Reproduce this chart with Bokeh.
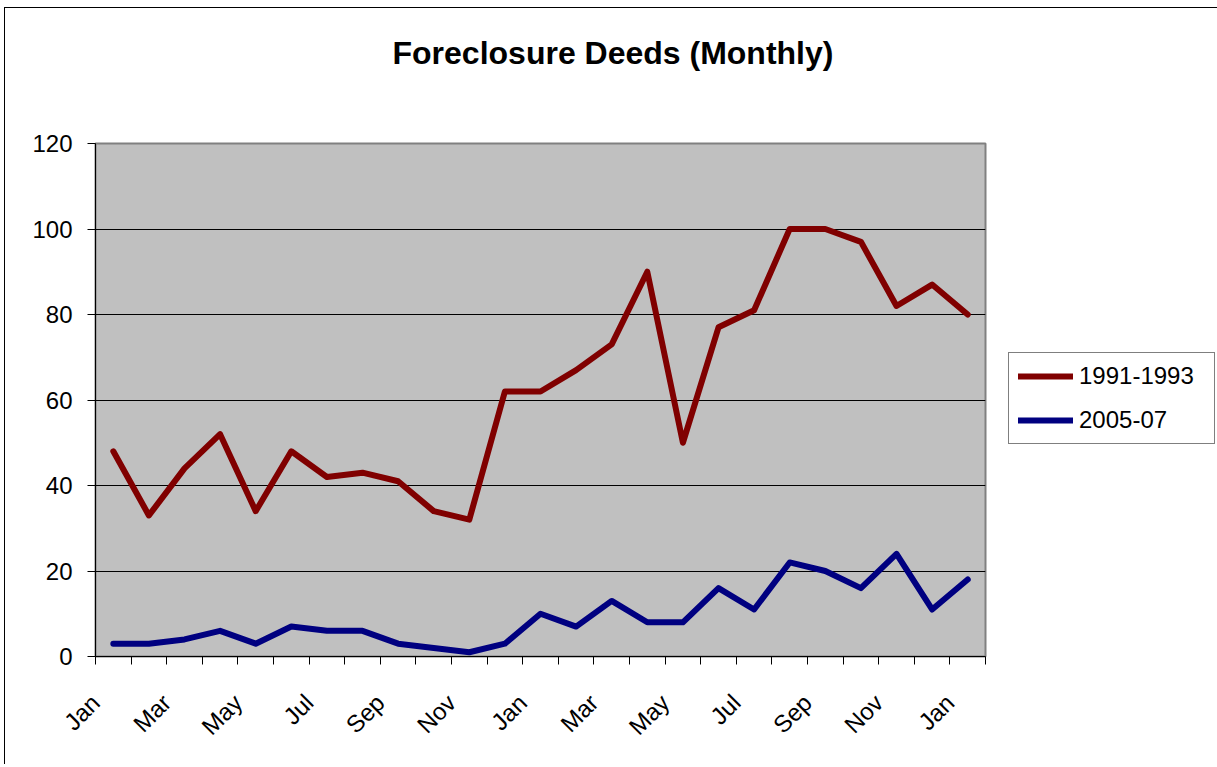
import math
from bokeh.plotting import figure
from bokeh.models import FixedTicker, Legend, LegendItem, Range1d, Title
from bokeh.embed import file_html
from bokeh.resources import INLINE

# ---- data ----
months = ["Jan", "Feb", "Mar", "Apr", "May", "Jun", "Jul", "Aug", "Sep", "Oct", "Nov", "Dec",
          "Jan", "Feb", "Mar", "Apr", "May", "Jun", "Jul", "Aug", "Sep", "Oct", "Nov", "Dec",
          "Jan"]
deeds_1991_1993 = [48, 33, 44, 52, 34, 48, 42, 43, 41, 34, 32, 62,
                   62, 67, 73, 90, 50, 77, 81, 100, 100, 97, 82, 87, 80]
deeds_2005_07 = [3, 3, 4, 6, 3, 7, 6, 6, 3, 2, 1, 3,
                 10, 7, 13, 8, 8, 16, 11, 22, 20, 16, 24, 11, 18]
y_ticks = [0, 20, 40, 60, 80, 100, 120]
series_names = ["1991-1993", "2005-07"]
title_text = "Foreclosure Deeds (Monthly)"

FONT = "Liberation Sans"
n = len(months)
x = list(range(n))
LABEL_SHIFT = 0.5  # rotated labels sit slightly left of the category centre

p = figure(frame_width=890, frame_height=513,
           min_border_left=90, min_border_right=231,
           min_border_top=135, min_border_bottom=108,
           x_range=Range1d(-0.5, n - 0.5), y_range=Range1d(0, 120),
           output_backend="svg", toolbar_location=None,
           background_fill_color="#C0C0C0", border_fill_color="white",
           title=None)
p.styles = {"border-left": "1px solid black", "border-top": "1px solid black",
            "margin-left": "4px", "margin-top": "7px"}

# blank spacer between the plot area and the title, then the title itself
spacer = Title(text=" ", text_font=FONT, text_font_size="32px",
               vertical_align="bottom", standoff=35)
p.add_layout(spacer, "above")
main_title = Title(text=title_text, text_font=FONT, text_font_size="32px",
                   text_font_style="bold", text_color="black",
                   align="left", offset=297, vertical_align="bottom", standoff=0)
p.add_layout(main_title, "above")

p.outline_line_color = "#808080"
p.outline_line_width = 2

r1 = p.line(x, deeds_1991_1993, line_color="#800000", line_width=6,
            line_join="round", line_cap="round")
r2 = p.line(x, deeds_2005_07, line_color="#000080", line_width=6,
            line_join="round", line_cap="round")

# x axis: minor ticks at category boundaries, labels every other month
label_pos = [i - LABEL_SHIFT for i in x[::2]]
xa = p.xaxis[0]
xa.ticker = FixedTicker(ticks=label_pos, minor_ticks=[i - 0.5 for i in range(n + 1)])
xa.major_label_overrides = {i - LABEL_SHIFT: months[i] for i in x[::2]}
xa.major_tick_out = 0
xa.major_tick_in = 0
xa.minor_tick_out = 8
xa.minor_tick_in = 0
xa.minor_tick_line_color = "black"
xa.axis_line_color = "black"
xa.major_label_orientation = math.pi / 4
xa.major_label_text_font = FONT
xa.major_label_text_font_size = "24px"
xa.major_label_text_color = "black"
xa.major_label_standoff = 34

# y axis
ya = p.yaxis[0]
ya.ticker = FixedTicker(ticks=y_ticks)
ya.major_tick_out = 8
ya.major_tick_in = 0
ya.minor_tick_out = 0
ya.minor_tick_in = 0
ya.axis_line_color = "black"
ya.major_tick_line_color = "black"
ya.major_label_text_font = FONT
ya.major_label_text_font_size = "24px"
ya.major_label_text_color = "black"
ya.major_label_standoff = 15

p.xgrid.visible = False
p.ygrid.ticker = FixedTicker(ticks=y_ticks[1:-1])
p.ygrid.grid_line_color = "black"
p.ygrid.grid_line_width = 1

legend = Legend(items=[LegendItem(label=series_names[0], renderers=[r1]),
                       LegendItem(label=series_names[1], renderers=[r2])],
                location=(23, 212), glyph_width=55, glyph_height=20,
                label_standoff=6, padding=9, spacing=16, margin=0,
                label_width=126,
                border_line_color="black", border_line_width=1,
                background_fill_color="white", background_fill_alpha=1,
                label_text_font=FONT, label_text_font_size="24px",
                label_text_color="black")
p.add_layout(legend, "right")

open("out.html", "w").write(file_html(p, INLINE))
